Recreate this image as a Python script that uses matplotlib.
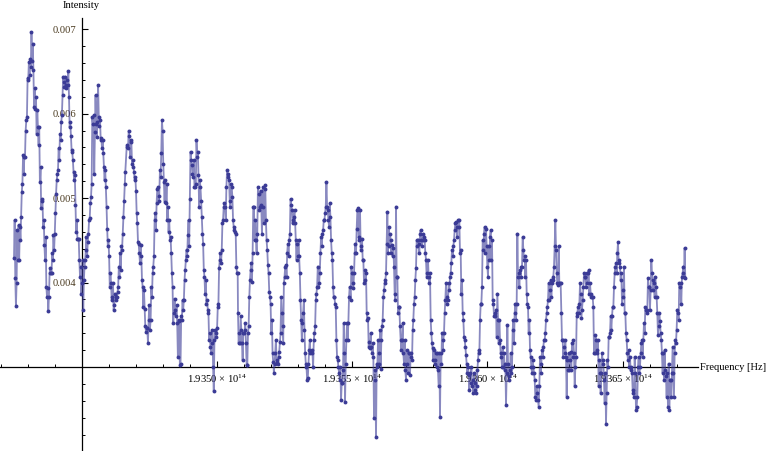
import numpy as np
import matplotlib
matplotlib.use("Agg")
import matplotlib.pyplot as plt
from matplotlib.ticker import FixedLocator, MultipleLocator, NullFormatter

plt.rcParams['font.family'] = ['Liberation Serif', 'DejaVu Serif']
plt.rcParams['mathtext.fontset'] = 'custom'
plt.rcParams['mathtext.rm'] = 'Liberation Serif'
plt.rcParams['mathtext.it'] = 'Liberation Serif:italic'

# Intensity readings (units of 1e-3), six consecutive frequency segments
seg_a = [4.29, 4.74, 4.05, 3.72, 3.99, 4.62, 4.27, 4.68, 4.27, 4.66, 4.50, 4.78, 5.07, 5.17, 5.51, 5.29, 5.49, 5.49,
         5.80, 5.92, 5.96, 6.42, 6.40, 6.61, 6.46, 6.65, 6.55, 6.97, 6.63, 6.83, 6.52, 6.08, 6.30, 6.06, 6.20, 5.76,
         6.04, 5.84, 5.63, 5.84, 5.19, 5.37, 4.88, 4.97, 4.99, 4.66, 4.74, 4.45, 4.27, 4.54, 3.95, 3.83, 3.93, 3.66,
         3.83, 4.11, 4.17, 4.11, 4.11, 4.35, 4.27, 4.56, 4.39, 4.58, 4.82, 5.05, 5.21, 5.29, 5.33, 5.59, 5.45, 5.76,
         5.69, 5.90, 5.98, 6.22, 6.44, 6.38, 6.32, 6.44, 6.30, 6.34, 6.40, 6.34, 6.50, 6.20, 5.84, 5.90, 5.74, 5.57,
         5.55, 5.45, 5.31, 5.21, 5.27, 4.92, 4.60, 4.74, 4.52, 4.52, 4.52, 4.27, 4.07, 4.19, 3.87, 3.99, 4.27, 3.68,
         4.03, 4.19, 4.27, 4.39, 4.54, 4.31, 4.48, 4.58, 4.74, 4.76, 4.94, 5.01, 5.17, 5.96, 5.88, 5.98, 5.29, 5.78,
         6.22, 5.88, 5.72, 5.90, 6.34, 5.96, 5.86, 5.92, 5.69, 5.71, 5.59, 5.69, 5.53, 5.37, 5.21, 5.33, 5.13, 4.90,
         4.64, 4.43, 4.50, 4.31, 3.95, 4.11, 3.99, 3.79, 3.83, 3.99, 3.68, 3.73, 3.87, 3.79, 3.83, 3.83, 3.89, 3.95,
         4.19, 4.07, 4.35, 4.15, 4.43, 4.39, 4.58, 4.78, 4.97, 5.17, 5.31]
seg_b = [5.61, 5.63, 5.59, 5.80, 5.74, 5.49, 5.69, 5.67, 5.41, 5.45, 5.37, 5.31, 5.21, 5.25, 5.09, 4.82, 4.70, 4.48,
         4.46, 4.35, 4.23, 4.45, 4.31, 4.03, 3.95, 3.71, 3.91, 3.69, 3.48, 3.42, 3.46, 3.46, 3.28, 3.56, 3.73, 3.44,
         3.56, 3.95, 3.83, 4.11, 4.19, 4.31, 4.74, 4.82, 4.62, 4.94, 5.11, 5.13, 4.97, 5.03, 5.33, 5.25, 5.53, 5.92,
         5.80, 5.41, 5.19, 4.96, 5.21, 4.94, 5.17, 4.74, 4.90, 4.60, 4.74, 4.50, 4.54, 4.35, 4.11, 3.95, 3.52, 3.64,
         3.81, 3.68, 3.60, 3.73, 3.52, 3.12, 3.56, 3.54, 3.02, 3.04, 3.60, 3.56, 3.79, 3.68, 3.79, 4.03, 4.15, 4.27,
         4.39, 4.31, 4.56, 4.74, 4.43, 4.99, 5.55, 5.45, 5.39, 5.29, 5.25, 5.45, 5.13, 5.13, 5.17, 5.69, 5.49, 5.55,
         5.27, 4.90, 5.21, 5.13, 4.97, 4.78, 4.58, 4.46, 4.15, 4.07, 3.87, 4.03, 3.75, 3.79, 3.68, 3.64, 3.32, 3.40,
         3.24, 3.16, 3.28, 3.44, 3.00, 2.71, 3.32, 3.44, 3.40, 3.36, 3.46, 3.71, 3.75, 4.17, 4.27, 4.35, 4.23, 4.39,
         4.70, 4.74, 4.90, 4.94, 4.90, 4.74, 5.13, 5.33, 5.29, 5.25, 5.21, 4.97, 4.90, 5.17, 5.13, 5.01, 4.74, 4.66,
         4.62, 4.60, 4.58, 4.19, 4.11, 4.11]
seg_c = [3.64, 3.28, 3.40, 3.28, 3.60, 3.44, 3.28, 3.08, 3.40, 3.40, 3.44, 3.52, 3.28, 3.02, 3.02, 3.40, 3.48, 3.83,
         4.03, 4.15, 4.23, 4.01, 4.35, 4.90, 4.90, 4.50, 4.74, 4.50, 4.35, 4.58, 5.13, 5.05, 4.86, 4.90, 5.09, 4.92,
         4.58, 4.90, 5.13, 4.70, 5.11, 5.15, 4.74, 4.50, 4.39, 4.21, 4.11, 3.89, 3.83, 3.75, 3.40, 3.56, 3.16, 3.06,
         2.93, 3.04, 3.16, 3.32, 3.08, 3.06, 3.04, 3.12, 3.18, 3.30, 3.40, 3.83, 3.64, 3.48, 3.28, 3.99, 4.07, 4.19,
         4.21, 4.07, 4.35, 4.46, 4.31, 4.50, 4.58, 4.99, 4.92, 4.86, 4.70, 4.74, 4.78, 4.86, 4.70, 4.50, 4.27, 4.46,
         4.31, 4.50, 4.31, 4.11, 3.79, 3.56, 3.32, 3.52, 3.64, 3.79, 3.44, 3.16, 3.04, 3.00, 2.85, 2.87, 3.04, 3.20,
         3.32, 3.16, 3.18, 3.20, 3.16, 3.00, 3.32, 3.40, 3.48, 3.79, 3.87, 3.95, 4.19, 3.95, 3.99, 4.11, 4.35, 4.54,
         4.43, 4.58, 4.62, 4.74, 4.74, 4.82, 4.90, 5.19, 4.90, 4.86, 4.74, 4.66, 4.94, 4.78, 4.50, 4.35, 4.27, 3.95,
         3.83, 3.83, 3.75, 3.71, 3.32, 3.12, 3.08, 3.00, 2.93, 2.85, 3.00, 2.61, 2.81, 2.81, 2.96, 3.52, 3.16, 2.59,
         3.04, 3.32, 3.52, 3.32, 3.52, 3.83, 3.95]
seg_d = [3.79, 4.19, 4.11, 3.99, 3.93, 4.11, 4.35, 4.46, 4.35, 4.64, 4.86, 4.88, 4.54, 4.50, 4.86, 4.39, 4.43, 4.52,
         4.27, 4.27, 3.99, 4.15, 4.03, 4.11, 3.64, 3.56, 3.58, 3.24, 3.30, 3.22, 3.40, 3.24, 3.16, 3.28, 3.12, 2.39,
         2.96, 2.85, 2.17, 3.04, 3.00, 3.32, 3.16, 3.04, 3.44, 2.98, 3.32, 3.48, 3.56, 3.83, 3.91, 3.99, 4.03, 4.11,
         4.46, 4.84, 4.35, 4.66, 4.43, 4.58, 4.50, 4.35, 4.45, 4.31, 4.41, 4.19, 3.87, 3.79, 4.90, 4.07, 4.07, 3.64,
         3.71, 3.71, 3.48, 3.32, 3.20, 3.32, 3.52, 3.16, 3.04, 3.32, 2.96, 2.85, 3.20, 3.04, 2.93, 3.16, 3.16, 2.91,
         3.16, 3.12, 3.08, 3.44, 3.56, 3.75, 3.83, 4.03, 4.17, 4.50, 4.43, 4.50, 4.46, 4.35, 4.58, 4.62, 4.50, 4.43,
         4.50, 4.58, 4.54, 4.50, 4.35, 4.27, 4.07, 4.11, 4.27, 4.07, 3.99, 4.11, 3.56, 3.40, 3.28, 3.22, 3.08, 3.20,
         3.04, 3.08, 3.16, 3.00, 3.16, 2.96, 2.77, 3.16, 2.41, 3.16, 3.04, 3.40, 3.20, 3.32, 3.40, 3.64, 3.79, 3.99,
         3.75, 3.83, 3.79, 3.99, 3.91, 4.07, 4.11, 4.23, 4.39, 4.31, 4.43, 4.50, 4.62, 4.70, 4.72, 4.66, 4.54, 4.74,
         4.66, 4.74, 4.35, 4.39, 3.87, 4.03]
seg_e = [3.64, 3.56, 3.36, 3.32, 3.24, 3.14, 3.04, 2.93, 3.00, 2.91, 2.73, 2.93, 2.81, 3.00, 2.77, 2.85, 2.69, 2.93,
         2.73, 2.81, 2.69, 2.77, 2.96, 3.08, 3.20, 3.16, 3.56, 3.75, 3.75, 3.95, 4.50, 4.39, 4.58, 4.66, 4.35, 4.64,
         4.43, 4.19, 4.07, 4.43, 4.27, 4.54, 4.62, 4.27, 4.50, 3.79, 3.75, 3.60, 3.64, 3.60, 3.68, 3.36, 3.87, 3.56,
         3.28, 3.56, 3.32, 3.16, 3.12, 3.00, 3.24, 3.00, 3.16, 2.96, 3.04, 2.55, 2.93, 3.50, 3.04, 2.89, 2.85, 2.96,
         3.16, 2.93, 3.00, 3.44, 3.56, 3.28, 3.64, 3.75, 3.56, 3.75, 4.58, 4.07, 4.11, 3.95, 4.15, 4.07, 4.19, 4.19,
         4.54, 4.39, 4.27, 4.31, 4.07, 4.27, 3.87, 3.75, 3.71, 3.40, 3.56, 3.20, 3.12, 3.00, 2.93, 3.08, 3.00, 2.93,
         2.85, 2.65, 2.61, 2.77, 2.69, 2.61, 2.53, 2.77, 3.12, 2.93, 3.04, 3.20, 3.12, 3.24, 3.32, 3.32, 3.40, 3.56,
         3.64, 3.71, 3.79, 3.99, 3.79, 3.91, 4.03, 3.83, 3.99, 4.03, 4.07, 4.19, 4.43, 4.74, 4.39, 4.11, 3.99, 3.97,
         4.43, 3.99, 3.99, 3.99, 3.64, 3.32, 3.32, 3.12, 3.24, 3.16, 3.32, 3.12, 2.65, 3.08, 2.96, 3.16, 2.96, 3.08,
         3.18, 2.96, 3.28, 3.12, 3.32, 3.16]
seg_f = [2.77, 3.00, 3.12, 3.60, 3.64, 3.71, 3.64, 3.75, 3.99, 3.87, 3.58, 3.68, 3.79, 3.95, 4.11, 4.07, 4.07, 3.95,
         4.11, 3.99, 4.11, 4.15, 3.87, 3.99, 3.87, 3.83, 3.83, 3.83, 3.71, 3.16, 3.16, 3.38, 3.32, 3.16, 3.20, 3.32,
         2.77, 3.08, 2.93, 2.69, 2.93, 3.16, 3.08, 3.04, 2.85, 2.57, 2.93, 2.33, 2.69, 3.08, 3.00, 3.36, 3.36, 3.40,
         3.60, 3.44, 3.60, 3.71, 3.71, 3.95, 4.11, 4.19, 4.23, 4.11, 4.35, 4.48, 4.23, 4.27, 4.19, 4.03, 4.11, 3.75,
         3.91, 3.83, 4.19, 3.64, 3.64, 3.40, 3.32, 3.16, 3.08, 3.20, 3.00, 3.12, 2.96, 3.00, 2.93, 2.73, 2.69, 2.65,
         3.12, 2.93, 2.49, 2.53, 2.65, 3.00, 3.12, 2.93, 3.00, 3.16, 3.28, 3.32, 3.12, 3.32, 3.52, 3.40, 3.71, 3.68,
         3.64, 3.68, 4.05, 3.95, 3.95, 3.68, 3.91, 4.27, 4.11, 4.03, 3.91, 3.99, 3.83, 4.07, 3.95, 3.83, 3.64, 3.38,
         3.48, 3.64, 3.54, 3.40, 3.32, 3.16, 2.93, 3.16, 2.85, 3.20, 2.96, 2.89, 2.65, 2.93, 2.53, 3.04, 2.49, 2.85,
         2.85, 2.65, 2.93, 3.24, 2.93, 2.65, 3.16, 3.32, 3.28, 3.44, 3.68, 3.64, 3.56, 3.99, 3.95, 3.99, 3.75, 4.07,
         4.11, 4.19, 4.07, 4.41, 4.05]

# Frequency span of each segment (Hz)
seg_freq_bounds = [
    (1.93424972e14, 1.93466118e14),
    (1.93466636e14, 1.93507671e14),
    (1.93507782e14, 1.93549076e14),
    (1.93549445e14, 1.93590590e14),
    (1.93590850e14, 1.93631996e14),
    (1.93632255e14, 1.93673140e14),
]
segments = [seg_a, seg_b, seg_c, seg_d, seg_e, seg_f]

x_tick_values = [1.9350e14, 1.9355e14, 1.9360e14, 1.9365e14]
x_tick_labels = ['1.9350 \u00d7 10$^{14}$', '1.9355 \u00d7 10$^{14}$', '1.9360 \u00d7 10$^{14}$', '1.9365 \u00d7 10$^{14}$']
y_tick_values = [0.004, 0.005, 0.006, 0.007]
y_tick_labels = ['0.004', '0.005', '0.006', '0.007']

freq = np.concatenate([np.linspace(lo, hi, len(s)) for (lo, hi), s in zip(seg_freq_bounds, segments)])
intensity = np.concatenate([np.array(s) for s in segments]) * 1e-3

W, H = 769, 451
fig = plt.figure(figsize=(W / 100, H / 100), dpi=100)
ax = fig.add_axes([0, 0, 698 / W, (H - 18) / H])
ax.patch.set_alpha(0)

col = '#3b3b96'
ax.plot(freq, intensity, '-', color=col, lw=1.3, alpha=0.6, zorder=3)
ax.plot(freq, intensity, 'o', color=col, ms=2.8, mew=0, zorder=4)

ax.set_xlim(1.93419797e14, 1.93677840e14)
ax.set_ylim(0.002005, 0.0071336)

for s in ['top', 'right']:
    ax.spines[s].set_visible(False)
ax.spines['left'].set_position(('data', 1.9345e14))
ax.spines['bottom'].set_position(('data', 0.003))
for s in ['left', 'bottom']:
    ax.spines[s].set_linewidth(0.9)
    ax.spines[s].set_color('black')

ax.xaxis.set_major_locator(FixedLocator(x_tick_values))
ax.set_xticklabels(x_tick_labels)
ax.xaxis.set_minor_locator(MultipleLocator(1e10))
ax.yaxis.set_major_locator(FixedLocator(y_tick_values))
ax.set_yticklabels(y_tick_labels)
ax.yaxis.set_minor_locator(MultipleLocator(0.0002))
ax.xaxis.set_minor_formatter(NullFormatter())
ax.yaxis.set_minor_formatter(NullFormatter())

fs = 7.6
ax.tick_params(axis='both', which='major', direction='in', length=4.0, width=0.8, labelsize=fs, colors='black')
ax.tick_params(axis='both', which='minor', direction='in', length=2.3, width=0.7)
ax.tick_params(axis='x', which='major', pad=4)
ax.tick_params(axis='y', which='major', pad=4, labelcolor='#4a3a20')

fig.text(81 / W, 1 - 6 / H, 'Intensity', ha='center', va='center', fontsize=fs)
fig.text(766 / W, 1 - 368 / H, 'Frequency [Hz]', ha='right', va='center', fontsize=fs)

fig.savefig('out.png', dpi=100)
